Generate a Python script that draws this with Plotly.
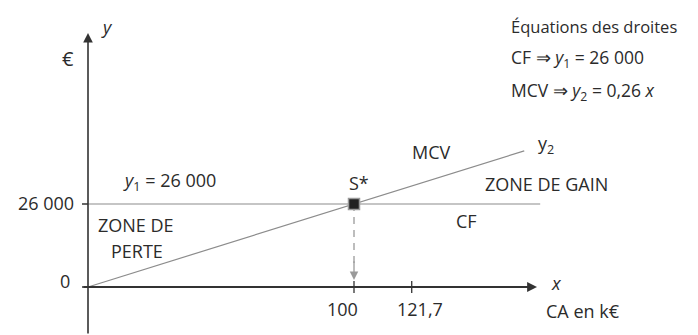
import plotly.graph_objects as go

# ---- data ----
fixed_costs = 26000          # CF : y1 = 26 000 (€)
mcv_rate = 0.26              # MCV : y2 = 0.26 x
x_unit = 1000                # x is in k€, y in €
breakeven_x = 100            # S* (k€)
x_ticks = [100, 121.7]
x_tick_labels = ["100", "121,7"]
y_ticks = [0, 26000]
y_tick_labels = ["0", "26 000"]
cf_x = [0, 170]
mcv_x = [0, 164]

# ---- pixel geometry (reference pixels) ----
OFF = 8                            # page body margin
W, H = 698 - OFF, 335 - OFF
X0PIX, XSCALE = 88, 2.66           # reference pixel of x=0, pixels per k€
Y0PIX, YSCALE = 287, 83 / 26000    # reference pixel of y=0, pixels per €
xr = [(OFF - X0PIX) / XSCALE, (698 - X0PIX) / XSCALE]
yr = [-(335 - Y0PIX) / YSCALE, (Y0PIX - OFF) / YSCALE]

def px(x):
    return (x - OFF) / W

def py(y):
    return 1 - (y - OFF) / H

FONT = "Open Sans"
TXT = "#2b2b2b"
AX = "#333333"
GREY = "#8c8c8c"

fig = go.Figure()

# CF line
fig.add_trace(go.Scatter(x=cf_x, y=[fixed_costs] * len(cf_x), mode="lines",
                         line=dict(color=GREY, width=1.2), hoverinfo="skip"))
# MCV line
fig.add_trace(go.Scatter(x=mcv_x, y=[mcv_rate * v * x_unit for v in mcv_x], mode="lines",
                         line=dict(color=GREY, width=1.2), hoverinfo="skip"))
# dashed drop from S*
fig.add_trace(go.Scatter(x=[breakeven_x, breakeven_x], y=[fixed_costs, 7000], mode="lines",
                         line=dict(color="#9a9a9a", width=1.3, dash="7px,6px"), hoverinfo="skip"))
# S* marker
fig.add_trace(go.Scatter(x=[breakeven_x], y=[mcv_rate * breakeven_x * x_unit], mode="markers",
                         marker=dict(symbol="square", size=11, color="#222222",
                                     line=dict(color="#9a9a9a", width=1.5)), hoverinfo="skip"))

shapes = []
for v in y_ticks:
    shapes.append(dict(type="line", xref="x", yref="y", x0=-6 / XSCALE, x1=0, y0=v, y1=v,
                       line=dict(color=AX, width=1.5)))
for v in x_ticks:
    shapes.append(dict(type="line", xref="x", yref="y", x0=v, x1=v, y0=-6 / YSCALE, y1=6 / YSCALE,
                       line=dict(color=AX, width=1.3)))

annotations = []
# axes with arrows
annotations.append(dict(x=0, y=(Y0PIX - 33) / YSCALE, ax=0, ay=-(335 - Y0PIX) / YSCALE,
                        xref="x", yref="y", axref="x", ayref="y", text="", showarrow=True,
                        arrowhead=2, arrowsize=1.2, arrowwidth=1.6, arrowcolor=AX))
annotations.append(dict(x=(537 - X0PIX) / XSCALE, y=0, ax=-6 / XSCALE, ay=0,
                        xref="x", yref="y", axref="x", ayref="y", text="", showarrow=True,
                        arrowhead=2, arrowsize=1.1, arrowwidth=1.8, arrowcolor=AX))
# arrowhead for the dashed drop
annotations.append(dict(x=breakeven_x, y=7 / YSCALE, ax=breakeven_x, ay=8500,
                        xref="x", yref="y", axref="x", ayref="y", text="", showarrow=True,
                        arrowhead=2, arrowsize=1.3, arrowwidth=1.3, arrowcolor="#9a9a9a"))

def label(text, x, y, xanchor="center", size=18):
    annotations.append(dict(text=text, x=px(x), y=py(y), xref="paper", yref="paper",
                            xanchor=xanchor, yanchor="middle", showarrow=False,
                            font=dict(family=FONT, size=size, color=TXT)))

label("<i>y</i>", 107, 27)
label("€", 68, 59, size=20)
label("Équations des droites", 509, 26, xanchor="left", size=16.5)
label("CF ⇒ <i>y</i><sub>1</sub> = 26 000", 509, 59, xanchor="left", size=17.5)
label("MCV ⇒ <i>y</i><sub>2</sub> = 0,26 <i>x</i>", 509, 91, xanchor="left", size=17.5)
label("<i>y</i><sub>1</sub> = 26 000", 121, 181, xanchor="left")
label(y_tick_labels[1], 76, 203, xanchor="right")
label(y_tick_labels[0], 65, 281)
label("ZONE DE", 96, 225, xanchor="left")
label("PERTE", 109, 251, xanchor="left")
label("S*", 359, 183)
label("MCV", 431, 152)
label("y<sub>2</sub>", 546, 144)
label("ZONE DE GAIN", 546, 184)
label("CF", 466, 221)
label("<i>x</i>", 556, 283)
label(x_tick_labels[0], 342, 309)
label(x_tick_labels[1], 420, 309)
label("CA en k€", 583, 311)

fig.update_layout(
    width=W, height=H, margin=dict(l=0, r=0, t=0, b=0),
    paper_bgcolor="white", plot_bgcolor="white", showlegend=False,
    xaxis=dict(range=xr, visible=False, fixedrange=True),
    yaxis=dict(range=yr, visible=False, fixedrange=True),
    shapes=shapes, annotations=annotations,
)

fig.write_html("out.html")
